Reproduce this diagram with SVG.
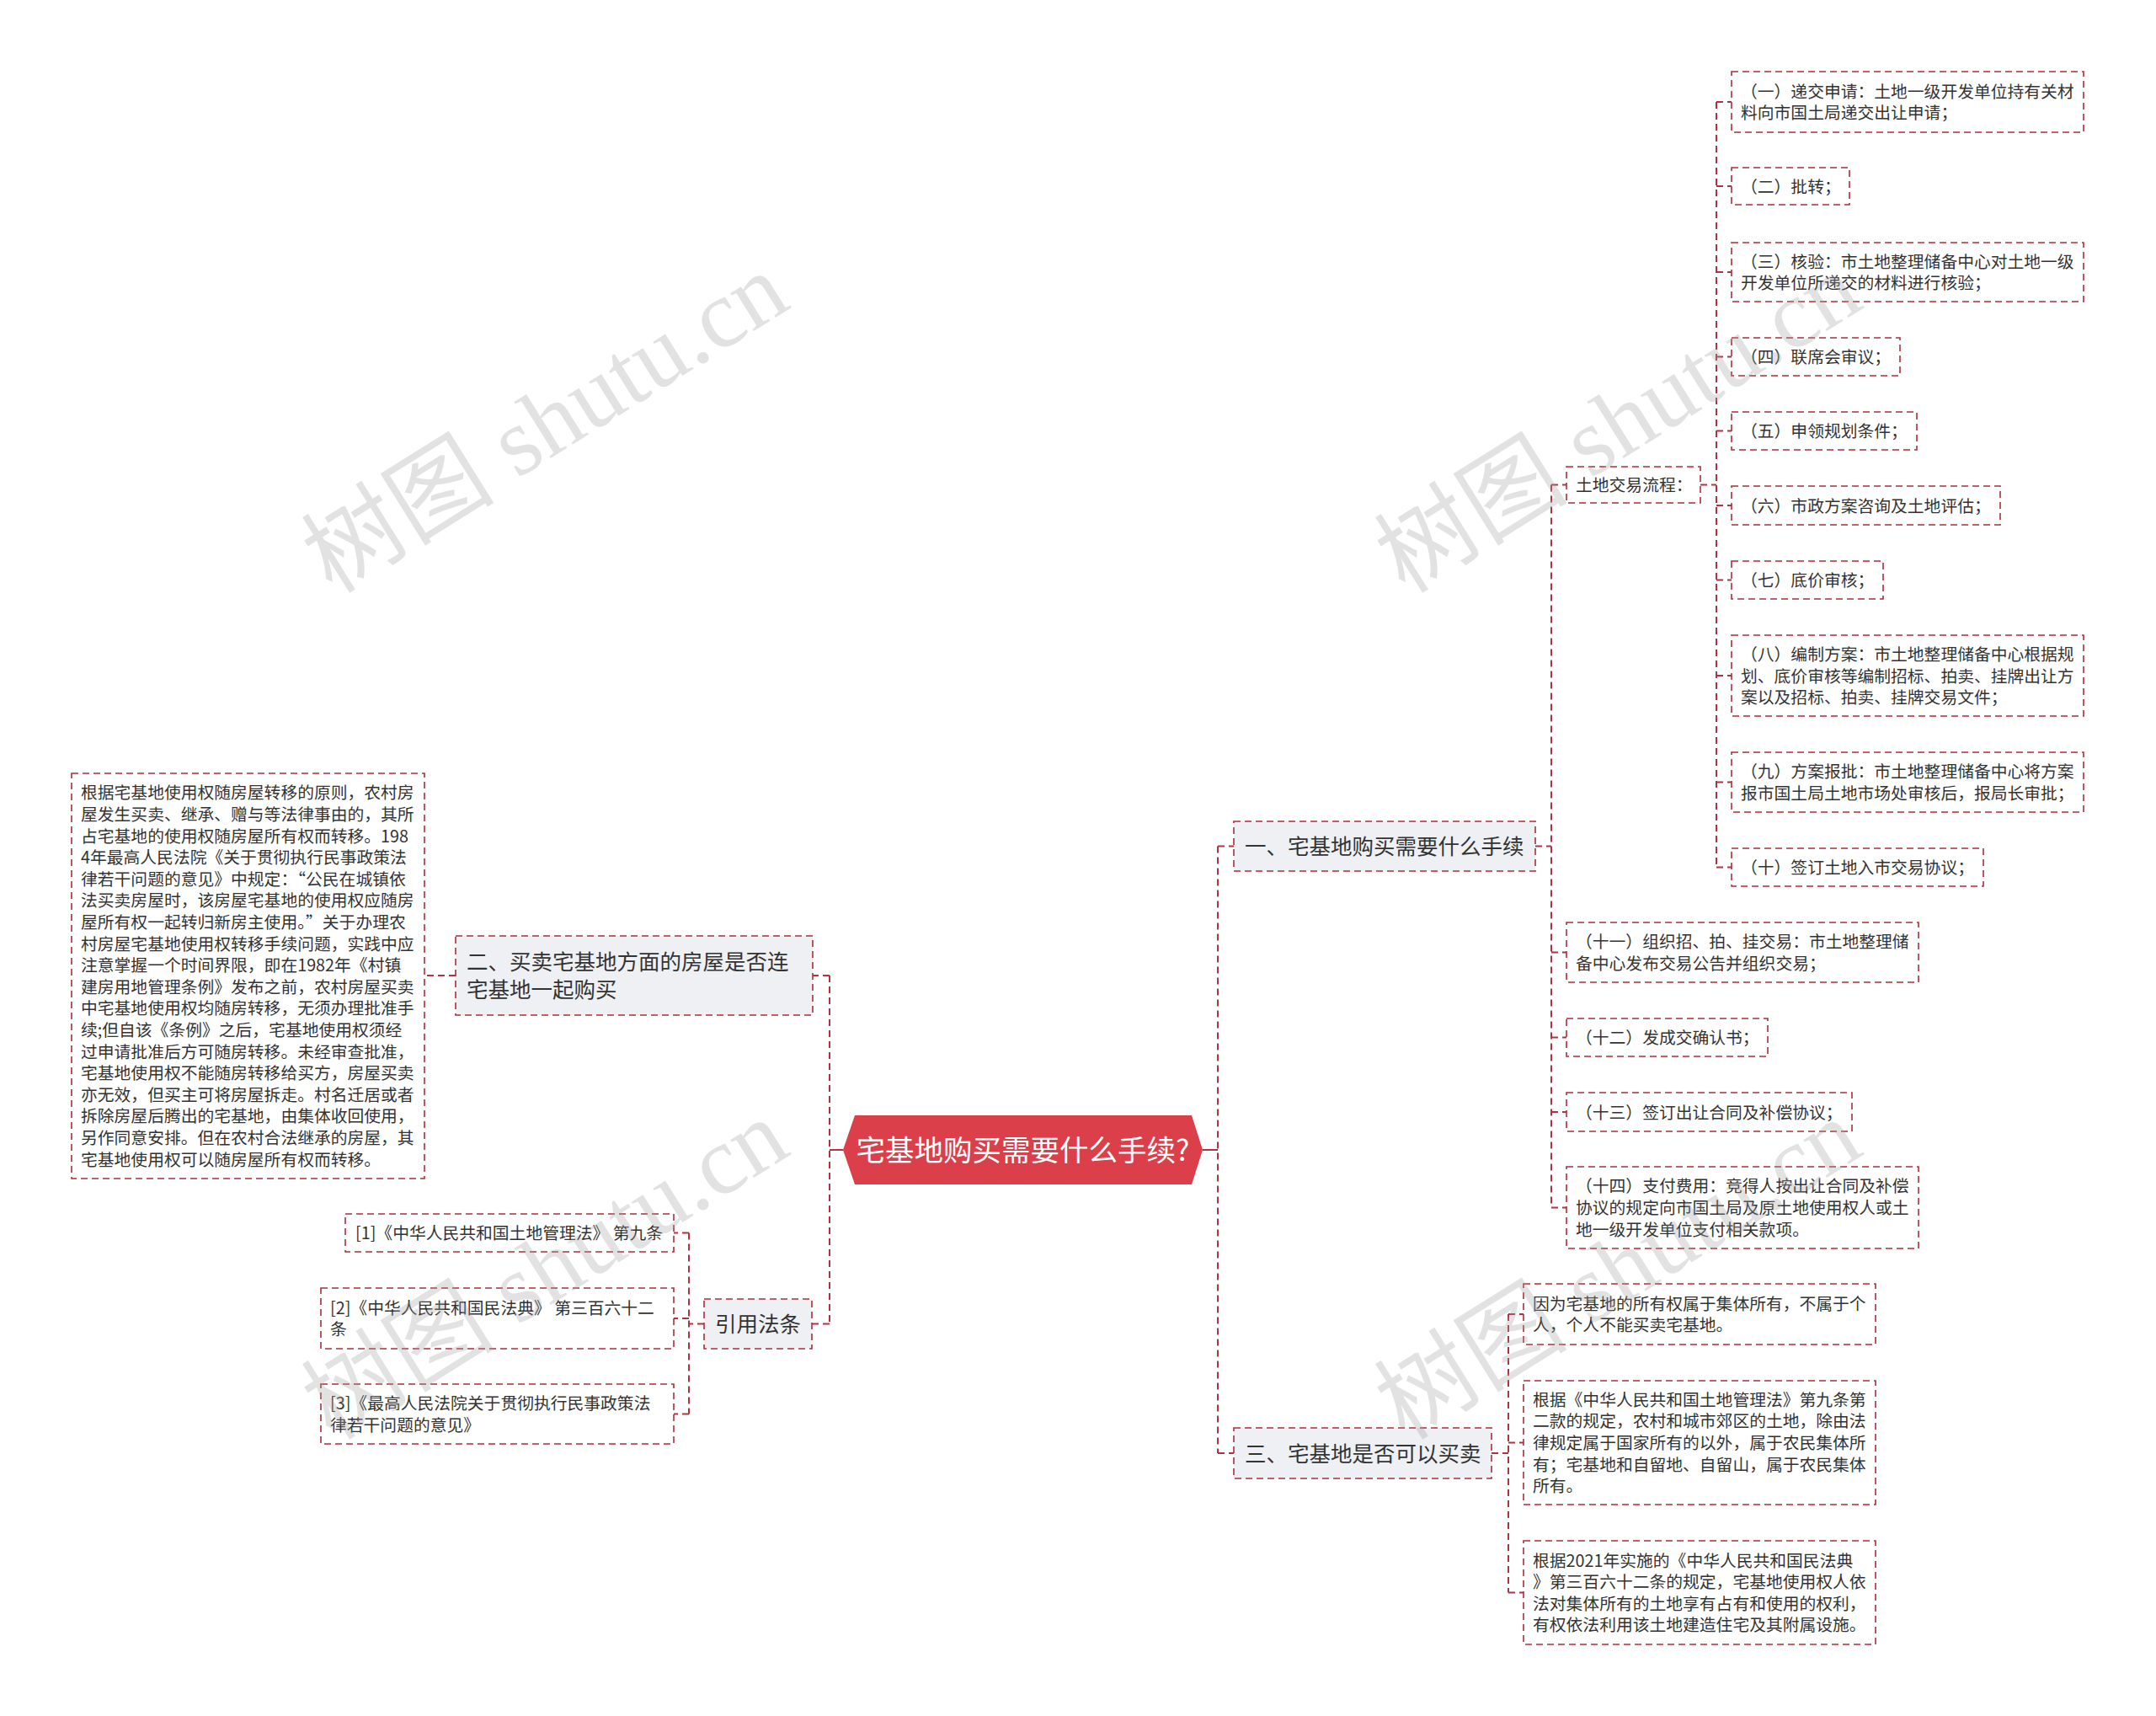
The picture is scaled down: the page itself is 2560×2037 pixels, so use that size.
<svg xmlns="http://www.w3.org/2000/svg" width="2560" height="2037" viewBox="0 0 2560 2037">
<defs>
<style>
.bx{fill:#ffffff;stroke:#a9303b;stroke-width:1.6;stroke-dasharray:8 5}
.l1{fill:#eef0f4;stroke:#a9303b;stroke-width:1.6;stroke-dasharray:8 5}
.cn{fill:none;stroke:#b0343f;stroke-width:2;stroke-dasharray:8 5}
.cs{fill:none;stroke:#b0343f;stroke-width:2}
.t{font-family:"Noto Sans CJK SC","Noto Sans",sans-serif;font-size:19.8px;fill:#333333}
.t1{font-family:"Noto Sans CJK SC","Noto Sans",sans-serif;font-size:25.5px;fill:#333333}
.tr{font-family:"Noto Sans CJK SC","Noto Sans",sans-serif;font-size:34.5px;fill:#ffffff}
.wm{font-family:"Liberation Serif","Noto Sans CJK SC",serif;font-size:115px;fill:#a0a0a0;fill-opacity:0.3}
</style>
</defs>
<rect width="2560" height="2037" fill="#ffffff"/>

<g id="connectors">
<path class="cs" d="M1428,1365 H1446"/>
<path class="cs" d="M1001,1365 H985"/>
<path class="cn" d="M1446,1004.5 V1725"/>
<path class="cn" d="M1446,1004.5 H1465 M1446,1725 H1465"/>
<path class="cn" d="M985,1158 V1571.5"/>
<path class="cn" d="M985,1158 H965 M985,1571.5 H964"/>
<path class="cn" d="M541,1158 H504"/>
<path class="cn" d="M836,1571.5 H818 M818,1463.5 V1678.5 M818,1463.5 H800 M818,1565 H800 M818,1678.5 H800"/>
<path class="cn" d="M1823,1004.5 H1842 M1842,575.5 V1433.5 M1842,575.5 H1860 M1842,1130.5 H1860 M1842,1231.5 H1860 M1842,1320 H1860 M1842,1433.5 H1860"/>
<path class="cn" d="M2019,575.5 H2038 M2038,121 V1029.5 M2038,121 H2056 M2038,221 H2056 M2038,323 H2056 M2038,423.5 H2056 M2038,511.5 H2056 M2038,600 H2056 M2038,688.5 H2056 M2038,802 H2056 M2038,928.5 H2056 M2038,1029.5 H2056"/>
<path class="cn" d="M1771,1725 H1791 M1791,1560 V1890.5 M1791,1560 H1809 M1791,1712.5 H1809 M1791,1890.5 H1809"/>
</g>

<g id="root">
<polygon points="1001,1365 1015,1324 1415,1324 1428,1365 1415,1406 1015,1406" fill="#db3f49"/>
<text class="tr" x="1214.5" y="1377.5" text-anchor="middle">宅基地购买需要什么手续?</text>
</g>

<g id="n1">
<rect class="l1" x="1465" y="975" width="358" height="59"/>
<text class="t1" x="1478" y="1014.2">一、宅基地购买需要什么手续</text>
</g>
<g id="n1-flow">
<rect class="bx" x="1860" y="554" width="159" height="43"/>
<text class="t" x="1871" y="583">土地交易流程：</text>
</g>
<g id="s1">
<rect class="bx" x="2056" y="85" width="418" height="72"/>
<text class="t" x="2067" y="115.7">（一）递交申请：土地一级开发单位持有关材</text>
<text class="t" x="2067" y="141.3">料向市国土局递交出让申请；</text>
</g>
<g id="s2">
<rect class="bx" x="2056" y="199" width="140" height="44"/>
<text class="t" x="2067" y="228.5">（二）批转；</text>
</g>
<g id="s3">
<rect class="bx" x="2056" y="288" width="418" height="70"/>
<text class="t" x="2067" y="317.7">（三）核验：市土地整理储备中心对土地一级</text>
<text class="t" x="2067" y="343.3">开发单位所递交的材料进行核验；</text>
</g>
<g id="s4">
<rect class="bx" x="2056" y="401" width="200" height="45"/>
<text class="t" x="2067" y="431">（四）联席会审议；</text>
</g>
<g id="s5">
<rect class="bx" x="2056" y="489" width="220" height="45"/>
<text class="t" x="2067" y="519">（五）申领规划条件；</text>
</g>
<g id="s6">
<rect class="bx" x="2056" y="577" width="319" height="46"/>
<text class="t" x="2067" y="607.5">（六）市政方案咨询及土地评估；</text>
</g>
<g id="s7">
<rect class="bx" x="2056" y="666" width="180" height="45"/>
<text class="t" x="2067" y="696">（七）底价审核；</text>
</g>
<g id="s8">
<rect class="bx" x="2056" y="754" width="418" height="96"/>
<text class="t" x="2067" y="783.9">（八）编制方案：市土地整理储备中心根据规</text>
<text class="t" x="2067" y="809.5">划、底价审核等编制招标、拍卖、挂牌出让方</text>
<text class="t" x="2067" y="835.1">案以及招标、拍卖、挂牌交易文件；</text>
</g>
<g id="s9">
<rect class="bx" x="2056" y="893" width="418" height="71"/>
<text class="t" x="2067" y="923.2">（九）方案报批：市土地整理储备中心将方案</text>
<text class="t" x="2067" y="948.8">报市国土局土地市场处审核后，报局长审批；</text>
</g>
<g id="s10">
<rect class="bx" x="2056" y="1007" width="299" height="45"/>
<text class="t" x="2067" y="1037">（十）签订土地入市交易协议；</text>
</g>
<g id="s11">
<rect class="bx" x="1860" y="1095" width="418" height="71"/>
<text class="t" x="1871" y="1125.2">（十一）组织招、拍、挂交易：市土地整理储</text>
<text class="t" x="1871" y="1150.8">备中心发布交易公告并组织交易；</text>
</g>
<g id="s12">
<rect class="bx" x="1860" y="1209" width="239" height="45"/>
<text class="t" x="1871" y="1239">（十二）发成交确认书；</text>
</g>
<g id="s13">
<rect class="bx" x="1860" y="1297" width="339" height="46"/>
<text class="t" x="1871" y="1327.5">（十三）签订出让合同及补偿协议；</text>
</g>
<g id="s14">
<rect class="bx" x="1860" y="1385" width="418" height="97"/>
<text class="t" x="1871" y="1415.4">（十四）支付费用：竞得人按出让合同及补偿</text>
<text class="t" x="1871" y="1441">协议的规定向市国土局及原土地使用权人或土</text>
<text class="t" x="1871" y="1466.6">地一级开发单位支付相关款项。</text>
</g>

<g id="n3">
<rect class="l1" x="1465" y="1695" width="306" height="60"/>
<text class="t1" x="1478" y="1734.7">三、宅基地是否可以买卖</text>
</g>
<g id="n3a">
<rect class="bx" x="1809" y="1524" width="418" height="72"/>
<text class="t" x="1820" y="1554.7">因为宅基地的所有权属于集体所有，不属于个</text>
<text class="t" x="1820" y="1580.3">人，个人不能买卖宅基地。</text>
</g>
<g id="n3b">
<rect class="bx" x="1809" y="1639" width="418" height="147"/>
<text class="t" x="1820" y="1668.8">根据《中华人民共和国土地管理法》第九条第</text>
<text class="t" x="1820" y="1694.4">二款的规定，农村和城市郊区的土地，除由法</text>
<text class="t" x="1820" y="1720">律规定属于国家所有的以外，属于农民集体所</text>
<text class="t" x="1820" y="1745.6">有；宅基地和自留地、自留山，属于农民集体</text>
<text class="t" x="1820" y="1771.2">所有。</text>
</g>
<g id="n3c">
<rect class="bx" x="1809" y="1829" width="418" height="123"/>
<text class="t" x="1820" y="1859.6">根据2021年实施的《中华人民共和国民法典</text>
<text class="t" x="1820" y="1885.2">》第三百六十二条的规定，宅基地使用权人依</text>
<text class="t" x="1820" y="1910.8">法对集体所有的土地享有占有和使用的权利，</text>
<text class="t" x="1820" y="1936.4">有权依法利用该土地建造住宅及其附属设施。</text>
</g>

<g id="n2">
<rect class="l1" x="541" y="1111" width="424" height="94"/>
<text class="t1" x="554" y="1151.2">二、买卖宅基地方面的房屋是否连</text>
<text class="t1" x="554" y="1184.2">宅基地一起购买</text>
</g>
<g id="n2a">
<rect class="bx" x="85" y="918" width="419" height="481"/>
<text class="t" x="96" y="948.4">根据宅基地使用权随房屋转移的原则，农村房</text>
<text class="t" x="96" y="974">屋发生买卖、继承、赠与等法律事由的，其所</text>
<text class="t" x="96" y="999.6">占宅基地的使用权随房屋所有权而转移。198</text>
<text class="t" x="96" y="1025.2">4年最高人民法院《关于贯彻执行民事政策法</text>
<text class="t" x="96" y="1050.8">律若干问题的意见》中规定：“公民在城镇依</text>
<text class="t" x="96" y="1076.4">法买卖房屋时，该房屋宅基地的使用权应随房</text>
<text class="t" x="96" y="1102">屋所有权一起转归新房主使用。”关于办理农</text>
<text class="t" x="96" y="1127.6">村房屋宅基地使用权转移手续问题，实践中应</text>
<text class="t" x="96" y="1153.2">注意掌握一个时间界限，即在1982年《村镇</text>
<text class="t" x="96" y="1178.8">建房用地管理条例》发布之前，农村房屋买卖</text>
<text class="t" x="96" y="1204.4">中宅基地使用权均随房转移，无须办理批准手</text>
<text class="t" x="96" y="1230">续;但自该《条例》之后，宅基地使用权须经</text>
<text class="t" x="96" y="1255.6">过申请批准后方可随房转移。未经审查批准，</text>
<text class="t" x="96" y="1281.2">宅基地使用权不能随房转移给买方，房屋买卖</text>
<text class="t" x="96" y="1306.8">亦无效，但买主可将房屋拆走。村名迁居或者</text>
<text class="t" x="96" y="1332.4">拆除房屋后腾出的宅基地，由集体收回使用，</text>
<text class="t" x="96" y="1358">另作同意安排。但在农村合法继承的房屋，其</text>
<text class="t" x="96" y="1383.6">宅基地使用权可以随房屋所有权而转移。</text>
</g>

<g id="n4">
<rect class="l1" x="836" y="1542" width="128" height="59"/>
<text class="t1" x="849" y="1581.2">引用法条</text>
</g>
<g id="r1">
<rect class="bx" x="410" y="1441" width="390" height="45"/>
<text class="t" x="422" y="1471">[1]《中华人民共和国土地管理法》 第九条</text>
</g>
<g id="r2">
<rect class="bx" x="381" y="1529" width="419" height="72"/>
<text class="t" x="392" y="1559.7">[2]《中华人民共和国民法典》 第三百六十二</text>
<text class="t" x="392" y="1585.3">条</text>
</g>
<g id="r3">
<rect class="bx" x="381" y="1643" width="419" height="71"/>
<text class="t" x="392" y="1673.2">[3]《最高人民法院关于贯彻执行民事政策法</text>
<text class="t" x="392" y="1698.8">律若干问题的意见》</text>
</g>

<g id="watermarks">
<text class="wm" transform="translate(668,535) rotate(-32)" text-anchor="middle">树图 shutu.cn</text>
<text class="wm" transform="translate(1942,535) rotate(-32)" text-anchor="middle">树图 shutu.cn</text>
<text class="wm" transform="translate(668,1540) rotate(-32)" text-anchor="middle">树图 shutu.cn</text>
<text class="wm" transform="translate(1942,1540) rotate(-32)" text-anchor="middle">树图 shutu.cn</text>
</g>
</svg>
